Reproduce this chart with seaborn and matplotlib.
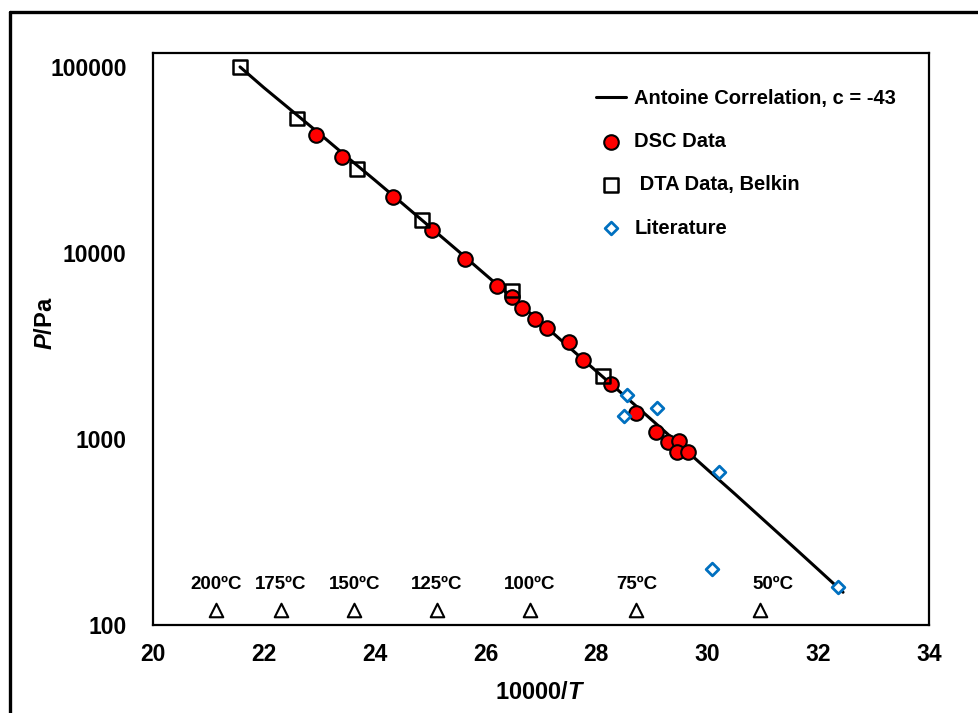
import numpy as np
import pandas as pd
import matplotlib
matplotlib.use("Agg")
import matplotlib.pyplot as plt
from matplotlib.lines import Line2D
from matplotlib.ticker import FixedLocator, MultipleLocator, NullLocator
import seaborn as sns

sns.set_style("white")
plt.rcParams["font.family"] = ["Liberation Sans", "DejaVu Sans"]
plt.rcParams["font.weight"] = "bold"
plt.rcParams["text.color"] = "black"
plt.rcParams["axes.labelcolor"] = "black"
plt.rcParams["xtick.color"] = "black"
plt.rcParams["ytick.color"] = "black"
plt.rcParams["mathtext.fontset"] = "custom"
plt.rcParams["mathtext.rm"] = "Liberation Sans:bold"
plt.rcParams["mathtext.bf"] = "Liberation Sans:bold"
plt.rcParams["mathtext.it"] = "Liberation Sans:bold:italic"
plt.rcParams["mathtext.bfit"] = "Liberation Sans:bold:italic"

# Antoine correlation line
line_x = [21.57, 22.0, 22.5, 23.0, 23.5, 24.0, 24.5, 25.0, 25.5, 26.0, 26.5, 27.0,
          27.5, 28.0, 28.5, 29.0, 29.5, 30.0, 30.5, 31.0, 31.5, 32.0, 32.45]
line_p = [100000, 77400, 58300, 43850, 32800, 24660, 18450, 13770, 10280, 7640, 5690, 4230,
          3126, 2312, 1714, 1265, 933, 686, 506, 371, 272, 199, 150]

# DSC data
dsc_x = [22.94, 23.41, 24.33, 25.03, 25.63, 26.21, 26.48, 26.66, 26.89, 27.11, 27.50,
         27.76, 28.26, 28.71, 29.07, 29.29, 29.49, 29.45, 29.65]
dsc_p = [43000, 32800, 20000, 13300, 9290, 6650, 5800, 5060, 4410, 3950, 3330,
         2660, 1980, 1383, 1087, 960, 973, 851, 851]

# DTA data, Belkin
dta_x = [21.57, 22.60, 23.68, 24.85, 26.48, 28.12]
dta_p = [100000, 52700, 28300, 15000, 6270, 2180]

# Literature
lit_x = [28.55, 28.49, 29.09, 30.21, 30.09, 32.35]
lit_p = [1718, 1331, 1468, 665, 201, 160]

# temperature markers
temp_labels = ["200ºC", "175ºC", "150ºC", "125ºC", "100ºC", "75ºC", "50ºC"]
temp_x = [21.13, 22.31, 23.63, 25.12, 26.80, 28.72, 30.95]
temp_label_x = [21.13, 22.31, 23.63, 25.12, 26.80, 28.72, 31.18]
temp_marker_p = [120] * 7
temp_label_p = 166

fig = plt.figure(figsize=(9.79, 7.13), dpi=100)
ax = fig.add_axes([0.1563, 0.1234, 0.7926, 0.8023])

line_df = pd.DataFrame({"x": line_x, "p": line_p})
sns.lineplot(data=line_df, x="x", y="p", ax=ax, color="black", linewidth=2.2,
             label="Antoine Correlation, c = -43", sort=False, zorder=2)

sns.scatterplot(x=dsc_x, y=dsc_p, ax=ax, marker="o", s=110, color="#FF0000",
                edgecolor="black", linewidth=1.5, label="DSC Data", zorder=3)
sns.scatterplot(x=dta_x, y=dta_p, ax=ax, marker="s", s=95, color="none",
                edgecolor="black", linewidth=1.8, label=" DTA Data, Belkin", zorder=4)
sns.scatterplot(x=lit_x, y=lit_p, ax=ax, marker="D", s=42, color="white",
                edgecolor="#0070C0", linewidth=2.0, label="Literature", zorder=4)
sns.scatterplot(x=temp_x, y=temp_marker_p, ax=ax, marker="^", s=95, color="white",
                edgecolor="black", linewidth=1.5, legend=False, zorder=4)

for lab, tx in zip(temp_labels, temp_label_x):
    ax.text(tx, temp_label_p, lab, ha="center", va="center", fontsize=13.5,
            fontweight="bold")

ax.set_yscale("log")
ax.set_xlim(20, 34)
ax.set_ylim(100, 10 ** 5.075)
ax.xaxis.set_major_locator(MultipleLocator(2))
ax.xaxis.set_minor_locator(MultipleLocator(1))
ax.yaxis.set_major_locator(FixedLocator([100, 1000, 10000, 100000]))
ax.yaxis.set_minor_locator(NullLocator())
ax.set_yticklabels(["100", "1000", "10000", "100000"])

ax.tick_params(axis="both", which="both", direction="in", color="black",
               labelsize=16.5, width=1.3, labelcolor="black")
ax.tick_params(axis="x", which="major", length=7, pad=13)
ax.tick_params(axis="x", which="minor", length=7)
ax.tick_params(axis="y", which="major", length=7, pad=19)
for lbl in ax.get_xticklabels() + ax.get_yticklabels():
    lbl.set_fontweight("bold")

for sp in ax.spines.values():
    sp.set_color("black")
    sp.set_linewidth(1.6)

ax.set_xlabel("10000/$\\mathit{T}$", fontsize=17, fontweight="bold")
ax.set_ylabel("$\\mathit{P}$/Pa", fontsize=17, fontweight="bold")
ax.xaxis.set_label_coords(0.499, -0.098)
ax.yaxis.set_label_coords(-0.124, 0.528)

ax.legend(loc="upper left", bbox_to_anchor=(0.571, 0.937), frameon=False,
          prop={"weight": "bold", "size": 14.5}, labelspacing=1.2,
          handlelength=1.5, handletextpad=0.4, borderpad=0, borderaxespad=0,
          markerscale=1.0)

# outer frame around the figure
fig.add_artist(Line2D([0.0102, 0.0102], [0.0, 0.983], transform=fig.transFigure,
                      color="black", linewidth=2.4))
fig.add_artist(Line2D([0.0102, 1.0], [0.983, 0.983], transform=fig.transFigure,
                      color="black", linewidth=2.4))

fig.savefig("out.png", dpi=100)
plt.close(fig)
